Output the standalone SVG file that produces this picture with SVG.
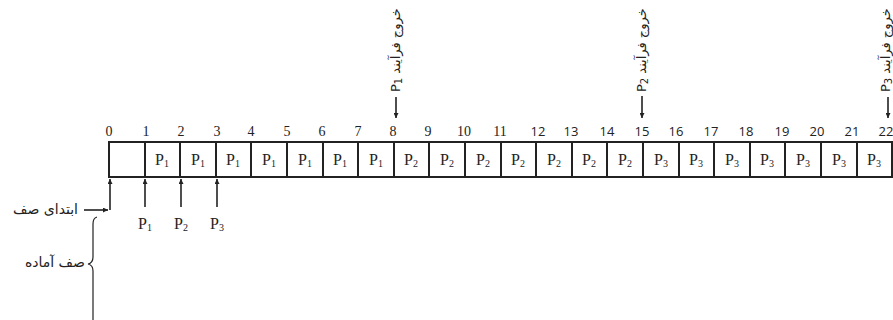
<svg xmlns="http://www.w3.org/2000/svg" width="893" height="320" viewBox="0 0 893 320">
<defs>
<style>
.cell{fill:#fff;stroke:#222;stroke-width:2}
.num{font-family:"Liberation Serif",serif;font-size:14px;fill:#222;text-anchor:middle}
.nums{font-family:"Open Sans","Liberation Sans",sans-serif;font-size:13px;fill:#222;text-anchor:middle}
.pl{font-family:"Liberation Serif",serif;font-size:16px;fill:#222;text-anchor:middle}
.sub{font-size:10px}
.ar{font-family:"DejaVu Sans",sans-serif;font-size:13px;fill:#222}
.arh{font-family:"DejaVu Sans",sans-serif;font-size:14px;fill:#222;text-anchor:end}
.ln{stroke:#222;stroke-width:1.6;fill:none}
.br{stroke:#222;stroke-width:1.2;fill:none}
</style>
<marker id="ah" viewBox="0 0 8 8" refX="8" refY="4" markerWidth="5" markerHeight="5" orient="auto" markerUnits="userSpaceOnUse">
<path d="M0,0 L8,4 L0,8 z" fill="#222"/>
</marker>
</defs>
<rect width="893" height="320" fill="#fff"/>

<g id="timeline-numbers">
<text class="num" x="109" y="136">0</text>
<text class="num" x="146" y="136">1</text>
<text class="num" x="181" y="136">2</text>
<text class="num" x="217" y="136">3</text>
<text class="num" x="251" y="136">4</text>
<text class="num" x="287" y="136">5</text>
<text class="num" x="322" y="136">6</text>
<text class="num" x="358" y="136">7</text>
<text class="num" x="393" y="136">8</text>
<text class="num" x="428" y="136">9</text>
<text class="num" x="464" y="136">10</text>
<text class="num" x="500" y="136">11</text>
<text class="nums" x="538" y="136">12</text>
<text class="nums" x="571" y="136">13</text>
<text class="nums" x="607" y="136">14</text>
<text class="nums" x="642" y="136">15</text>
<text class="nums" x="676" y="136">16</text>
<text class="nums" x="711" y="136">17</text>
<text class="nums" x="746" y="136">18</text>
<text class="nums" x="782" y="136">19</text>
<text class="nums" x="817" y="136">20</text>
<text class="nums" x="852" y="136">21</text>
<text class="nums" x="886" y="136">22</text>
</g>

<g id="cell-0"><rect class="cell" x="109" y="142" width="36" height="35"/></g>
<g id="cell-1"><rect class="cell" x="145" y="142" width="35" height="35"/><text class="pl" x="162" y="165">P<tspan class="sub" dy="2">1</tspan></text></g>
<g id="cell-2"><rect class="cell" x="180" y="142" width="36" height="35"/><text class="pl" x="198" y="165">P<tspan class="sub" dy="2">1</tspan></text></g>
<g id="cell-3"><rect class="cell" x="216" y="142" width="35" height="35"/><text class="pl" x="233" y="165">P<tspan class="sub" dy="2">1</tspan></text></g>
<g id="cell-4"><rect class="cell" x="251" y="142" width="36" height="35"/><text class="pl" x="269" y="165">P<tspan class="sub" dy="2">1</tspan></text></g>
<g id="cell-5"><rect class="cell" x="287" y="142" width="36" height="35"/><text class="pl" x="305" y="165">P<tspan class="sub" dy="2">1</tspan></text></g>
<g id="cell-6"><rect class="cell" x="323" y="142" width="35" height="35"/><text class="pl" x="340" y="165">P<tspan class="sub" dy="2">1</tspan></text></g>
<g id="cell-7"><rect class="cell" x="358" y="142" width="36" height="35"/><text class="pl" x="376" y="165">P<tspan class="sub" dy="2">1</tspan></text></g>
<g id="cell-8"><rect class="cell" x="394" y="142" width="35" height="35"/><text class="pl" x="411" y="165">P<tspan class="sub" dy="2">2</tspan></text></g>
<g id="cell-9"><rect class="cell" x="429" y="142" width="36" height="35"/><text class="pl" x="447" y="165">P<tspan class="sub" dy="2">2</tspan></text></g>
<g id="cell-10"><rect class="cell" x="465" y="142" width="36" height="35"/><text class="pl" x="483" y="165">P<tspan class="sub" dy="2">2</tspan></text></g>
<g id="cell-11"><rect class="cell" x="501" y="142" width="35" height="35"/><text class="pl" x="518" y="165">P<tspan class="sub" dy="2">2</tspan></text></g>
<g id="cell-12"><rect class="cell" x="536" y="142" width="36" height="35"/><text class="pl" x="554" y="165">P<tspan class="sub" dy="2">2</tspan></text></g>
<g id="cell-13"><rect class="cell" x="572" y="142" width="35" height="35"/><text class="pl" x="589" y="165">P<tspan class="sub" dy="2">2</tspan></text></g>
<g id="cell-14"><rect class="cell" x="607" y="142" width="36" height="35"/><text class="pl" x="625" y="165">P<tspan class="sub" dy="2">2</tspan></text></g>
<g id="cell-15"><rect class="cell" x="643" y="142" width="36" height="35"/><text class="pl" x="661" y="165">P<tspan class="sub" dy="2">3</tspan></text></g>
<g id="cell-16"><rect class="cell" x="679" y="142" width="35" height="35"/><text class="pl" x="696" y="165">P<tspan class="sub" dy="2">3</tspan></text></g>
<g id="cell-17"><rect class="cell" x="714" y="142" width="36" height="35"/><text class="pl" x="732" y="165">P<tspan class="sub" dy="2">3</tspan></text></g>
<g id="cell-18"><rect class="cell" x="750" y="142" width="35" height="35"/><text class="pl" x="767" y="165">P<tspan class="sub" dy="2">3</tspan></text></g>
<g id="cell-19"><rect class="cell" x="785" y="142" width="36" height="35"/><text class="pl" x="803" y="165">P<tspan class="sub" dy="2">3</tspan></text></g>
<g id="cell-20"><rect class="cell" x="821" y="142" width="36" height="35"/><text class="pl" x="839" y="165">P<tspan class="sub" dy="2">3</tspan></text></g>
<g id="cell-21"><rect class="cell" x="857" y="142" width="35" height="35"/><text class="pl" x="874" y="165">P<tspan class="sub" dy="2">3</tspan></text></g>

<g id="exit-label-p1"><text class="ar" transform="translate(400,92) rotate(-90)">P<tspan class="sub" dy="2">1</tspan><tspan dy="-2"> خروج فرآیند</tspan></text></g>
<g id="exit-label-p2"><text class="ar" transform="translate(646,92) rotate(-90)">P<tspan class="sub" dy="2">2</tspan><tspan dy="-2"> خروج فرآیند</tspan></text></g>
<g id="exit-label-p3"><text class="ar" transform="translate(890,92) rotate(-90)">P<tspan class="sub" dy="2">3</tspan><tspan dy="-2"> خروج فرآیند</tspan></text></g>

<g id="ptr-p1"><text class="pl" x="145" y="229">P<tspan class="sub" dy="2">1</tspan></text></g>
<g id="ptr-p2"><text class="pl" x="181" y="229">P<tspan class="sub" dy="2">2</tspan></text></g>
<g id="ptr-p3"><text class="pl" x="217" y="229">P<tspan class="sub" dy="2">3</tspan></text></g>

<g id="queue-head"><text class="arh" x="78" y="214">ابتدای صف</text></g>
<g id="ready-queue"><text class="arh" x="85" y="267">صف آماده</text>
<path class="br" d="M97,217 Q93,218 93,224 L93,257 Q93,263 88,264 Q93,265 93,271 L93,320"/></g>

<g id="connectors">
<line class="ln" x1="396" y1="97" x2="396" y2="118" marker-end="url(#ah)"/>
<line class="ln" x1="642" y1="96" x2="642" y2="118" marker-end="url(#ah)"/>
<line class="ln" x1="888" y1="97" x2="888" y2="118" marker-end="url(#ah)"/>
<line class="ln" x1="84" y1="210" x2="108" y2="210" marker-end="url(#ah)"/>
<line class="ln" x1="110" y1="210" x2="110" y2="179" marker-end="url(#ah)"/>
<line class="ln" x1="145" y1="207" x2="145" y2="179" marker-end="url(#ah)"/>
<line class="ln" x1="181" y1="207" x2="181" y2="179" marker-end="url(#ah)"/>
<line class="ln" x1="217" y1="207" x2="217" y2="179" marker-end="url(#ah)"/>
</g>
</svg>
